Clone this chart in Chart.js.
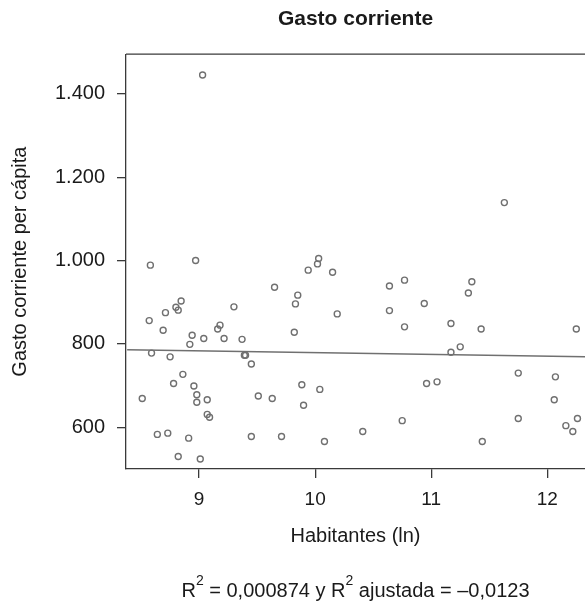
<!DOCTYPE html>
<html lang="es">
<head>
<meta charset="utf-8">
<title>Gasto corriente</title>
<script src="https://cdn.jsdelivr.net/npm/chart.js@4.4.0/dist/chart.umd.min.js"></script>
<style>
  html, body { margin: 0; padding: 0; background: #fff; overflow: hidden; }
  #wrap { position: relative; width: 585px; height: 611px; }
  #nota {
    position: absolute; left: 126px; right: 0; top: 578px;
    text-align: center; color: #1a1a1a;
    font: 20px "Liberation Sans", Arial, sans-serif; line-height: 24px;
  }
  #nota sup { font-size: 14px; vertical-align: baseline; position: relative; top: -12px; }
</style>
</head>
<body>
<div id="wrap">
  <canvas id="grafico" width="585" height="611"></canvas>
  <div id="nota">R<sup>2</sup> = 0,000874 y R<sup>2</sup> ajustada = –0,0123</div>
</div>
<script>
// habitantes (ln) de cada municipio
const habitantes = [
  8.58, 8.97, 9.03, 8.57, 8.71, 8.845, 8.80, 8.82, 8.69, 8.94,
  8.92, 9.04, 9.16, 9.18, 9.215, 9.30, 9.37, 9.39, 9.40, 9.45,
  8.59, 8.75, 8.86, 8.78, 8.955, 8.98, 8.98, 9.07, 8.51, 9.07,
  9.09, 8.64, 8.73, 8.91, 8.82, 9.01, 9.51, 9.63, 9.45, 9.71,
  9.65, 9.85, 9.83, 9.82, 9.94, 10.02, 10.03, 10.15, 10.19, 9.885,
  10.04, 9.90, 10.08, 10.64, 10.77, 10.64, 10.77, 10.94, 11.35, 11.32,
  11.17, 11.43, 12.25, 11.25, 11.17, 10.96, 11.05, 11.75, 12.07, 12.06,
  11.75, 12.26, 12.16, 12.22, 10.75, 10.41, 11.44, 11.63
];
// gasto corriente per cápita
const gasto = [
  989, 1000, 1445, 856, 875, 903, 888, 881, 833, 821,
  799, 813, 836, 845, 813, 889, 811, 773, 773, 752,
  778, 769, 727, 705, 699, 678, 660, 666, 669, 631,
  624, 583, 586, 574, 530, 524, 675, 669, 578, 578,
  936, 917, 896, 828, 977, 992, 1005, 972, 872, 702,
  691, 653, 566, 939, 953, 880, 841, 897, 949, 922,
  849, 836, 836, 793, 780, 705, 709, 730, 721, 666,
  621, 621, 604, 590, 616, 590, 566, 1139
];
// recta de regresión (extremos)
const rectaX = [8.38, 12.325];
const rectaY = [786, 769.5];

const xTicks = [9, 10, 11, 12];
const yTicks = [600, 800, 1000, 1200, 1400];
const yTickLabels = ['600', '800', '1.000', '1.200', '1.400'];

const GRIS = '#707070';
const NEGRO = '#1a1a1a';
const EJE = '#3a3a3a';

Chart.defaults.font.family = '"Liberation Sans", Arial, sans-serif';
Chart.defaults.color = NEGRO;

// linea superior del recuadro
const marco = {
  id: 'marco',
  afterDraw(chart) {
    const { ctx, chartArea: a } = chart;
    ctx.save();
    ctx.strokeStyle = EJE;
    ctx.lineWidth = 1.3;
    ctx.beginPath();
    ctx.moveTo(a.left, a.top);
    ctx.lineTo(a.right + 2, a.top);
    ctx.stroke();
    ctx.restore();
  }
};

new Chart(document.getElementById('grafico'), {
  data: {
    datasets: [
      {
        type: 'scatter',
        data: habitantes.map((x, i) => ({ x: x, y: gasto[i] })),
        pointRadius: 3,
        pointBorderWidth: 1.4,
        pointBorderColor: GRIS,
        pointBackgroundColor: 'rgba(255,255,255,0)',
      },
      {
        type: 'line',
        data: rectaX.map((x, i) => ({ x: x, y: rectaY[i] })),
        borderColor: GRIS,
        borderWidth: 1.5,
        pointRadius: 0,
        fill: false,
      },
    ],
  },
  options: {
    responsive: false,
    animation: false,
    devicePixelRatio: 1,
    layout: { padding: 0, autoPadding: false },
    scales: {
      x: {
        type: 'linear',
        min: 8.37,
        max: 12.325,
        afterFit: (s) => {
          s.height = 142;
          s.paddingLeft = 0;
          s.paddingRight = 0;
        },
        afterBuildTicks: (s) => { s.ticks = xTicks.map(v => ({ value: v })); },
        ticks: { font: { size: 19 }, color: NEGRO, padding: 10, maxRotation: 0, autoSkip: false },
        grid: { drawOnChartArea: false, drawTicks: true, tickLength: 9, color: EJE, lineWidth: 1.3 },
        border: { color: EJE, width: 1.3 },
        title: {
          display: true,
          text: 'Habitantes (ln)',
          font: { size: 20 },
          color: NEGRO,
          padding: { top: 0, bottom: 63 },
        },
      },
      y: {
        type: 'linear',
        min: 500,
        max: 1495,
        afterFit: (s) => {
          s.width = 126;
          s.paddingTop = 0;
          s.paddingBottom = 0;
        },
        afterBuildTicks: (s) => { s.ticks = yTicks.map(v => ({ value: v })); },
        ticks: {
          font: { size: 20 },
          color: NEGRO,
          padding: 12,
          callback: (v) => yTickLabels[yTicks.indexOf(v)],
        },
        grid: { drawOnChartArea: false, drawTicks: true, tickLength: 9, color: EJE, lineWidth: 1.3 },
        border: { color: EJE, width: 1.3 },
        title: {
          display: true,
          text: 'Gasto corriente per cápita',
          font: { size: 20 },
          color: NEGRO,
          padding: { top: 8, bottom: 4 },
        },
      },
    },
    plugins: {
      legend: { display: false },
      tooltip: { enabled: false },
      title: {
        display: true,
        fullSize: false,
        text: 'Gasto corriente',
        font: { size: 21, weight: 'bold' },
        color: NEGRO,
        padding: { top: 7, bottom: 22 },
      },
    },
  },
  plugins: [marco],
});
</script>
</body>
</html>
